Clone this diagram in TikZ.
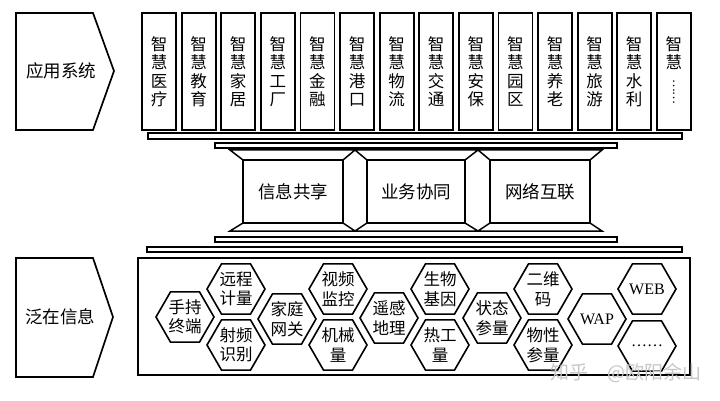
\documentclass[tikz,border=0pt]{standalone}
\usepackage{fontspec}
\setmainfont{Liberation Serif}
\newfontfamily\cjk{Noto Sans CJK SC}
\usetikzlibrary{shapes.geometric}
\begin{document}
\begin{tikzpicture}[x=1pt,y=-1pt,
  heavy/.style={line width=1.7pt,line join=miter},
  appbox/.style={draw,line width=1.8pt,minimum width=34pt,minimum height=117pt,inner sep=0pt,
    align=center,font=\cjk\fontsize{16.5}{18.5}\selectfont},
  apptext/.style={inner sep=0pt,align=center,font=\cjk\fontsize{16.5}{18.5}\selectfont},
  bar/.style={draw,line width=1.3pt,fill=white},
  midbox/.style={draw,line width=1.6pt,minimum height=63pt,inner sep=0pt,font=\cjk\fontsize{17.5}{19}\selectfont},
  hexa/.style={draw,line width=1.6pt,regular polygon,regular polygon sides=6,minimum size=58pt,
    inner sep=0pt,align=center,font=\cjk\fontsize{16.5}{19.5}\selectfont},
  sidelabel/.style={font=\cjk\fontsize{17.5}{20}\selectfont},
  latin/.style={font=\fontsize{16}{18}\selectfont}
]
\useasboundingbox (0,0) rectangle (720,401);
\fill[white] (0,0) rectangle (720,401);

% left pentagons
\draw[heavy] (16,13) -- (93,13) -- (114,71) -- (93,130) -- (16,130) -- cycle;
\node[sidelabel] (appsys) at (61,71) {应用系统};
\draw[heavy] (16,258) -- (93,258) -- (113,317) -- (93,377) -- (16,377) -- cycle;
\node[sidelabel] (ubiq) at (60,317) {泛在信息};

% application boxes
\foreach \a/\b [count=\i from 0] in {医/疗,教/育,家/居,工/厂,金/融,港/口,物/流,交/通,安/保,园/区,养/老,旅/游,水/利}
  \node[appbox] (app\i) at ({159+39.6*\i},71.5) {智\\慧\\\a\\\b};
\node[appbox] (app13) at ({159+39.6*13},71.5) {};
\node[apptext] (app13t) at ({159+39.6*13},53) {智\\慧};
\node[inner sep=0pt,rotate=-90,font=\cjk\fontsize{12}{12}\selectfont] (app13d) at ({159+39.6*13},92) {……};

% bars
\draw[bar] (148,133) rectangle (682,139);
\draw[bar] (215,143) rectangle (617,148);
\draw[bar] (215,237) rectangle (617,242);
\draw[bar] (147,247) rectangle (682,252);

% flanges
\draw[line width=1.5pt,line join=miter] (230,150) -- (355,150) -- (343,160) -- (243,160) -- cycle;
\draw[line width=1.5pt,line join=miter] (355,150) -- (478,150) -- (465,160) -- (367,160) -- cycle;
\draw[line width=1.5pt,line join=miter] (478,150) -- (602,150) -- (590,160) -- (490,160) -- cycle;
\draw[line width=1.5pt,line join=miter] (230,231) -- (355,231) -- (343,223) -- (243,223) -- cycle;
\draw[line width=1.5pt,line join=miter] (355,231) -- (478,231) -- (465,223) -- (367,223) -- cycle;
\draw[line width=1.5pt,line join=miter] (478,231) -- (602,231) -- (590,223) -- (490,223) -- cycle;

% middle boxes
\node[midbox,minimum width=100pt] (share) at (293,191.5) {信息共享};
\node[midbox,minimum width=98pt] (collab) at (416,191.5) {业务协同};
\node[midbox,minimum width=100pt] (net) at (540,191.5) {网络互联};

% bottom frame
\draw[line width=1.5pt] (138,258) rectangle (690,375);

% hexagons
\node[hexa] (h1) at (185,317) {手持\\终端};
\node[hexa] (h2) at (236,289) {远程\\计量};
\node[hexa] (h3) at (236,345) {射频\\识别};
\node[hexa] (h4) at (287,319) {家庭\\网关};
\node[hexa] (h5) at (338,289) {视频\\监控};
\node[hexa] (h6) at (338,345) {机械\\量};
\node[hexa] (h7) at (389,318) {遥感\\地理};
\node[hexa] (h8) at (440,289) {生物\\基因};
\node[hexa] (h9) at (440,345) {热工\\量};
\node[hexa] (h10) at (492,318) {状态\\参量};
\node[hexa] (h11) at (543,289) {二维\\码};
\node[hexa] (h12) at (543,345) {物性\\参量};
\node[hexa,latin] (h13) at (597,319) {WAP};
\node[hexa,latin] (h14) at (647,289) {WEB};
\node[hexa,latin] (h15) at (647,346) {\ldots\ldots};

% watermark
\node[font=\cjk\fontsize{19}{21}\selectfont,text=black!22,inner sep=0pt,anchor=west] (wm) at (550,373) {知乎\quad @欧阳余山};
\end{tikzpicture}
\end{document}
